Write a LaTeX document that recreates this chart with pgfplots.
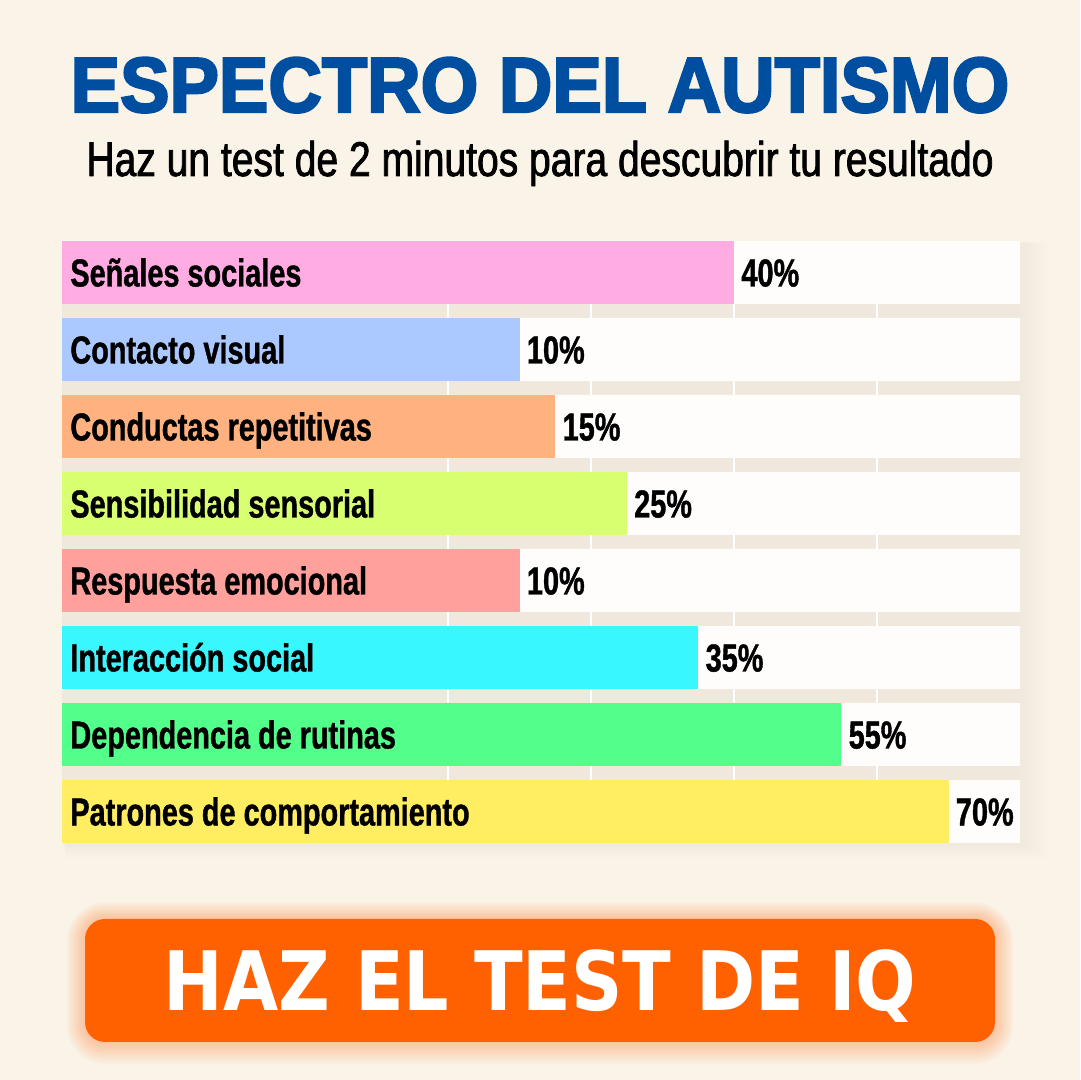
\documentclass[border=0pt]{standalone}
\usepackage{fontspec}
\usepackage{pgfplots}
\pgfplotsset{compat=1.18}
\setmainfont{Liberation Sans}
\newfontfamily\titlefont{Liberation Sans}[FakeStretch=0.95,FakeBold=3]
\newfontfamily\subfont{Liberation Sans}[FakeStretch=0.8,FakeBold=1.5]
\newfontfamily\labelfont{Liberation Sans}[FakeStretch=0.74,FakeBold=1]
\newfontfamily\buttonfont{DejaVu Sans}[FakeStretch=0.87]
\definecolor{bgcol}{HTML}{FAF3E7}
\definecolor{gapcol}{HTML}{F0E8DC}
\definecolor{trackcol}{HTML}{FEFDFB}
\definecolor{titleblue}{HTML}{004EA0}
\definecolor{btnorange}{HTML}{FF6000}
\definecolor{cpink}{HTML}{FFACE2}
\definecolor{cblue}{HTML}{ACC9FF}
\definecolor{cpeach}{HTML}{FFB27F}
\definecolor{clime}{HTML}{D7FF6F}
\definecolor{csalmon}{HTML}{FFA09D}
\definecolor{ccyan}{HTML}{38F7FF}
\definecolor{cgreen}{HTML}{53FF8B}
\definecolor{cyellow}{HTML}{FFEE62}
\pgfplotsset{
  pct/.style={draw=none, point meta=explicit symbolic,
    nodes near coords={\pgfplotspointmeta\%},
    nodes near coords style={anchor=base west, inner sep=0pt, xshift=3.5pt, yshift=-7pt,
      text=black, font=\labelfont\bfseries\fontsize{19.5}{20}\selectfont}},
}
\begin{document}
\begin{tikzpicture}[x=1pt,y=1pt]
\path[use as bounding box] (0,0) rectangle (540,540);
\fill[bgcol] (0,0) rectangle (540,540);
% soft shadow of the chart area
\foreach \i in {1,...,10}{
  \fill[black!60!brown, opacity=0.005] (31+\i*0.2,118.5-\i*0.8) rectangle (510+\i*1.5,419.5-\i*0.1);
}
% title
\node[anchor=base, inner sep=0pt, text=titleblue] at (270,484)
  {\titlefont\bfseries\fontsize{39}{40}\selectfont ESPECTRO DEL AUTISMO};
\node[anchor=base, inner sep=0pt, text=black] at (270,452)
  {\subfont\fontsize{24.4}{26}\selectfont Haz un test de 2 minutos para descubrir tu resultado};
\begin{axis}[
  at={(31pt,118.5pt)}, anchor=south west,
  scale only axis, width=479pt, height=301pt,
  xmin=0, xmax=134, ymin=0.591, ymax=8.409,
  x filter/.expression={x+54},
  xbar, bar width=0.818, bar shift=0pt,
  clip=false,
  axis line style={draw=none}, tick style={draw=none},
  xtick={54,74,94,114}, xticklabels={},
  xmajorgrids, grid style={white, line width=0.9pt},
  ytick=\empty,
  axis background/.style={fill=gapcol},
]
\addplot[fill=trackcol, draw=none] coordinates {(80,1) (80,2) (80,3) (80,4) (80,5) (80,6) (80,7) (80,8)};
\addplot[pct, fill=cpink] coordinates {(40,8) [40]};
\addplot[pct, fill=cblue] coordinates {(10,7) [10]};
\addplot[pct, fill=cpeach] coordinates {(15,6) [15]};
\addplot[pct, fill=clime] coordinates {(25,5) [25]};
\addplot[pct, fill=csalmon] coordinates {(10,4) [10]};
\addplot[pct, fill=ccyan] coordinates {(35,3) [35]};
\addplot[pct, fill=cgreen] coordinates {(55,2) [55]};
\addplot[pct, fill=cyellow] coordinates {(70,1) [70]};
% category names, written at the left edge of each bar
\addplot[only marks, mark=none, draw=none, fill=none, draw opacity=0, fill opacity=1,
  point meta=explicit symbolic, nodes near coords={\pgfplotspointmeta},
  nodes near coords style={anchor=base west, inner sep=0pt, xshift=4pt, yshift=-7pt,
    text=black, text opacity=1, font=\labelfont\bfseries\fontsize{19.5}{20}\selectfont}]
  coordinates {
  (-54,8) [Señales sociales]
  (-54,7) [Contacto visual]
  (-54,6) [Conductas repetitivas]
  (-54,5) [Sensibilidad sensorial]
  (-54,4) [Respuesta emocional]
  (-54,3) [Interacción social]
  (-54,2) [Dependencia de rutinas]
  (-54,1) [Patrones de comportamiento]
  };
\end{axis}
% button with glow
\foreach \i in {1,...,9}{
  \fill[btnorange, opacity=0.035, rounded corners=10pt+\i pt] (42.5-\i,19-\i*1.2) rectangle (497.5+\i,80.5+\i*0.9);
}
\fill[btnorange, rounded corners=10pt] (42.5,19) rectangle (497.5,80.5);
\node[anchor=base, inner sep=0pt, text=white] at (270,34.5)
  {\buttonfont\bfseries\fontsize{41}{42}\selectfont HAZ EL TEST DE IQ};
\end{tikzpicture}
\end{document}
